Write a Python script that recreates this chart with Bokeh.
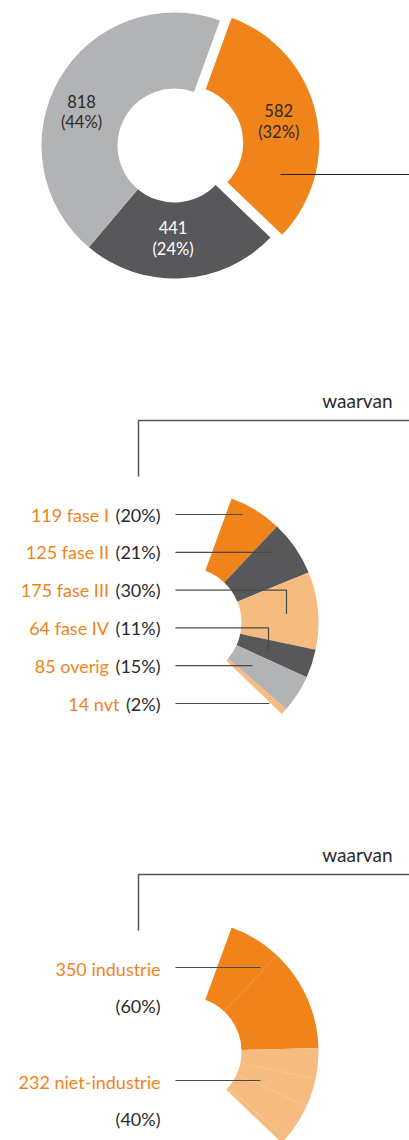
import math
from bokeh.plotting import figure
from bokeh.models import Range1d
from bokeh.embed import file_html
from bokeh.resources import INLINE
from bokeh.core.properties import value

# ---------------- data ----------------
main_values = [582, 441, 818]
main_pcts = ["32%", "24%", "44%"]
main_colors = ["#F0841A", "#58585A", "#B2B3B5"]
main_text_colors = ["#2B2B2B", "#FFFFFF", "#2B2B2B"]

fase_names = ["fase I", "fase II", "fase III", "fase IV", "overig", "nvt"]
fase_values = [119, 125, 175, 64, 85, 14]
fase_pcts = ["20%", "21%", "30%", "11%", "15%", "2%"]
fase_colors = ["#F0841A", "#58585A", "#F6BB7E", "#58585A", "#B2B3B5", "#F6BB7E"]

ind_names = ["industrie", "niet-industrie"]
ind_values = [350, 232]
ind_pcts = ["60%", "40%"]
ind_colors = ["#F0841A", "#F6BB7E"]

header_text = "waarvan"

# ---------------- layout ----------------
W, H = 409, 1140
FONT = "Lato"
ORANGE = "#F0841A"
DARK = "#2B2B2B"
LINE = "#4A4A4A"
START = 20.0          # degrees clockwise from 12 o'clock
R_OUT, R_IN = 133, 57


def Y(py):
    return H - py


def text_width(s, size):
    try:
        import subprocess
        from PIL import ImageFont
        path = subprocess.run(["fc-match", "-f", "%{file}", FONT],
                              capture_output=True, text=True).stdout.strip()
        f = ImageFont.truetype(path, size)
        return f.getlength(s)
    except Exception:
        table = {"(": .3, ")": .3, "%": .8, " ": .2}
        return sum(table.get(c, .58) for c in s) * size


def arcs(values, start_deg, span_deg):
    tot = float(sum(values))
    starts, ends, mids, bounds = [], [], [], []
    acc = start_deg
    for v in values:
        d = v / tot * span_deg
        starts.append(math.radians(90 - (acc + d)))
        ends.append(math.radians(90 - acc))
        mids.append(acc + d / 2)
        acc += d
        bounds.append(acc)
    return starts, ends, mids, bounds


p = figure(width=W, height=H, x_range=Range1d(0, W), y_range=Range1d(0, H),
           output_backend="svg", toolbar_location=None, min_border=0,
           x_axis_type=None, y_axis_type=None)
p.grid.visible = False
p.outline_line_color = None
p.background_fill_color = "white"
p.border_fill_color = "white"

# ---------------- top donut ----------------
cx0, cy0 = 174, 145
explode = [12, 0, 0]
s, e, mids, _ = arcs(main_values, START, 360)
xs, ys = [], []
for m, ex in zip(mids, explode):
    xs.append(cx0 + ex * math.sin(math.radians(m)))
    ys.append(Y(cy0) + ex * math.cos(math.radians(m)))
p.annular_wedge(x=xs, y=ys, inner_radius=R_IN, outer_radius=R_OUT,
                start_angle=s, end_angle=e, fill_color=main_colors, line_color=None)

label_shift = [0, 4, -10]
label_r = [95, 93, 99]
for i, v in enumerate(main_values):
    a = math.radians(mids[i] + label_shift[i])
    lx = xs[i] + label_r[i] * math.sin(a)
    ly = ys[i] + label_r[i] * math.cos(a)
    p.text(x=[lx, lx], y=[ly + 10.5, ly - 10.5], text=[str(v), "(" + main_pcts[i] + ")"],
           text_align="center", text_baseline="middle", text_font=value(FONT),
           text_font_size="16.5px", text_color=main_text_colors[i])

p.line(x=[280, W], y=[Y(174), Y(174)], line_color="#231F20", line_width=1)

sub_span = main_values[0] / float(sum(main_values)) * 360


def header(top):
    p.text(x=[392], y=[Y(top)], text=[header_text], text_align="right",
           text_baseline="alphabetic", text_font=value(FONT), text_font_size="19px",
           text_color=DARK)
    p.line(x=[138, 138, W], y=[Y(top + 76), Y(top + 20), Y(top + 20)],
           line_color="#555555", line_width=1.5)


def faint_lines(cx, cy, angles):
    x0s, y0s, x1s, y1s = [], [], [], []
    for a in angles:
        r = math.radians(a)
        x0s.append(cx + (R_IN - 2) * math.sin(r))
        y0s.append(Y(cy) + (R_IN - 2) * math.cos(r))
        x1s.append(cx + (R_OUT - 1) * math.sin(r))
        y1s.append(Y(cy) + (R_OUT - 1) * math.cos(r))
    p.segment(x0=x0s, y0=y0s, x1=x1s, y1=y1s, line_color="white",
              line_alpha=0.25, line_width=0.8)


# ---------------- middle: fase ----------------
header(400)
cx1, cy1 = 186, 622
s, e, mids, fase_bounds = arcs(fase_values, START, sub_span)
p.annular_wedge(x=cx1, y=Y(cy1), inner_radius=R_IN - 2, outer_radius=R_OUT - 1,
                start_angle=s, end_angle=e, fill_color=fase_colors, line_color=None)

row0, step = 514, 37.8
lead_end = [242, 272, 286, 268, 252, 269]
lead_drop = [0, 0, 24, 24, 0, 0]
for i, v in enumerate(fase_values):
    yy = row0 + i * step
    dark_txt = "(" + fase_pcts[i] + ")"
    org_txt = "%d %s" % (v, fase_names[i])
    p.text(x=[160], y=[Y(yy)], text=[dark_txt], text_align="right",
           text_baseline="alphabetic", text_font=value(FONT), text_font_size="18px",
           text_color=DARK)
    p.text(x=[160 - text_width(" " + dark_txt, 18) - 2], y=[Y(yy)], text=[org_txt],
           text_align="right", text_baseline="alphabetic", text_font=value(FONT),
           text_font_size="18px", text_color=ORANGE)
    lx = [175, lead_end[i]]
    ly = [Y(yy), Y(yy)]
    if lead_drop[i]:
        lx.append(lead_end[i])
        ly.append(Y(yy + lead_drop[i]))
    p.line(x=lx, y=ly, line_color=LINE, line_width=1.2)

# ---------------- bottom: industrie ----------------
header(854)
cx2, cy2 = 186, 1051
s, e, mids, _ = arcs(ind_values, START, sub_span)
p.annular_wedge(x=cx2, y=Y(cy2), inner_radius=R_IN - 2, outer_radius=R_OUT - 1,
                start_angle=s, end_angle=e, fill_color=ind_colors, line_color=None)
faint_lines(cx2, cy2, [fase_bounds[0], fase_bounds[2], fase_bounds[3], fase_bounds[4]])

ind_rows = [968, 1081]
for i, v in enumerate(ind_values):
    yy = ind_rows[i]
    p.text(x=[160], y=[Y(yy)], text=["%d %s" % (v, ind_names[i])], text_align="right",
           text_baseline="alphabetic", text_font=value(FONT), text_font_size="18px",
           text_color=ORANGE)
    p.text(x=[160], y=[Y(yy + 37)], text=["(" + ind_pcts[i] + ")"], text_align="right",
           text_baseline="alphabetic", text_font=value(FONT), text_font_size="18px",
           text_color=DARK)
    p.line(x=[175, 260], y=[Y(yy - 1), Y(yy - 1)], line_color=LINE, line_width=1.2)

open("out.html", "w").write(file_html(p, INLINE))
